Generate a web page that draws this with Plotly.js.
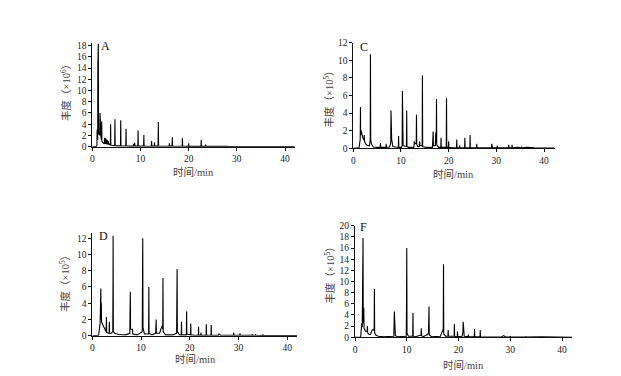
<!DOCTYPE html>
<html>
<head>
<meta charset="utf-8">
<script src="https://cdn.plot.ly/plotly-3.0.1.min.js"></script>
<style>html,body{margin:0;padding:0;background:#fff;}#chart{width:621px;height:376px;}</style>
</head>
<body>
<div id="chart"></div>
<script>
// Retention time (min), abundance pairs
const chromA = [[0,0],[0.9,0.05],[0.96,0.3],[1.0,3.0],[1.04,0.8],[1.12,1.2],[1.15,14.6],[1.18,2.5],[1.22,3.0],[1.25,18.3],[1.3,2.2],[1.42,2.5],[1.55,2.0],[1.6,6.0],[1.65,2.2],[1.72,2.0],[1.75,4.6],[1.8,1.6],[1.9,1.2],[1.95,4.5],[2.0,0.9],[2.2,0.7],[2.4,0.6],[2.5,0.5],[2.55,1.6],[2.6,0.5],[2.75,0.5],[2.8,1.5],[2.85,0.5],[3.0,0.4],[3.05,1.2],[3.1,0.4],[3.25,0.4],[3.3,1.0],[3.35,0.3],[3.5,0.3],[3.6,0.5],[3.75,0.3],[3.78,2.2],[3.8,4.0],[3.85,0.3],[4.0,0.25],[4.3,0.2],[4.65,0.2],[4.7,4.9],[4.75,0.2],[5.2,0.15],[5.85,0.15],[5.9,4.7],[5.95,0.15],[6.4,0.12],[6.95,0.12],[7.0,3.2],[7.05,0.12],[7.8,0.1],[8.55,0.1],[8.6,0.5],[8.65,0.15],[8.75,0.15],[8.8,0.7],[8.85,0.1],[9.45,0.1],[9.5,2.9],[9.55,0.1],[10.65,0.1],[10.7,2.1],[10.75,0.1],[11.5,0.08],[12.25,0.08],[12.3,1.0],[12.35,0.1],[12.85,0.1],[12.9,0.8],[12.95,0.1],[13.65,0.1],[13.7,4.4],[13.75,0.1],[15.0,0.08],[15.95,0.08],[16.0,0.6],[16.05,0.1],[16.55,0.1],[16.6,1.7],[16.65,0.1],[17.5,0.08],[18.65,0.08],[18.7,1.5],[18.75,0.08],[19.95,0.06],[20.0,0.6],[20.05,0.06],[21.0,0.05],[22.55,0.05],[22.6,1.2],[22.65,0.05],[23.45,0.05],[23.5,0.4],[23.55,0.05],[28.0,0.05],[28.5,0.1],[28.6,0.04],[30,0.03],[42,0.02]];

const chromC = [[0,0],[1.2,0.05],[1.45,1.0],[1.5,4.7],[1.55,1.5],[1.65,2.0],[1.8,1.6],[2.0,1.2],[2.25,0.9],[2.3,1.5],[2.35,0.8],[2.6,0.5],[3.0,0.3],[3.4,0.3],[3.55,1.0],[3.58,7.5],[3.6,10.7],[3.65,1.0],[3.8,0.5],[4.2,0.15],[5.0,0.1],[5.65,0.1],[5.7,0.6],[5.75,0.1],[6.85,0.1],[6.9,0.5],[6.95,0.1],[7.6,0.15],[7.85,0.6],[7.9,4.3],[7.95,2.0],[8.05,1.0],[8.3,0.2],[9.45,0.1],[9.5,1.4],[9.55,0.1],[10.1,0.1],[10.25,0.3],[10.3,6.5],[10.35,1.2],[10.45,0.3],[11.15,0.2],[11.2,4.3],[11.25,0.2],[11.6,0.1],[12.7,0.1],[12.8,0.8],[12.9,0.5],[13.2,0.6],[13.25,3.8],[13.3,0.5],[13.5,0.2],[13.85,0.2],[13.9,0.8],[14.0,0.3],[14.45,0.3],[14.5,8.3],[14.55,0.2],[15.2,0.1],[16.6,0.1],[16.75,1.9],[16.8,0.3],[17.2,0.3],[17.3,1.8],[17.4,0.6],[17.45,5.6],[17.5,0.4],[17.9,0.1],[18.35,0.1],[18.4,1.2],[18.45,0.1],[19.5,0.1],[19.55,5.7],[19.6,0.1],[19.95,0.1],[20.0,0.8],[20.05,0.1],[21.0,0.05],[21.65,0.05],[21.7,1.0],[21.75,0.05],[22.25,0.05],[22.3,0.3],[22.35,0.05],[23.35,0.05],[23.4,1.2],[23.45,0.05],[24.45,0.05],[24.5,1.5],[24.55,0.05],[25.85,0.05],[25.9,0.5],[25.95,0.05],[27,0.05],[29.0,0.05],[29.05,0.5],[29.1,0.2],[29.2,0.05],[30.15,0.05],[30.2,0.3],[30.25,0.05],[32.55,0.05],[32.6,0.4],[32.65,0.05],[33.25,0.05],[33.3,0.4],[33.35,0.05],[34.5,0.1],[35.25,0.05],[35.3,0.2],[35.35,0.05],[36.5,0.1],[38,0.05],[42.2,0.03]];

const chromD = [[0,0],[1.3,0.05],[1.6,1.5],[1.7,4.2],[1.75,5.8],[1.8,2.0],[1.85,4.0],[1.9,1.7],[2.1,1.4],[2.4,1.0],[2.6,0.7],[2.85,0.5],[2.9,2.3],[2.95,0.4],[3.3,0.3],[3.45,0.3],[3.5,1.7],[3.55,0.3],[3.9,0.3],[4.2,0.5],[4.25,6.8],[4.27,12.3],[4.32,0.5],[4.6,0.3],[5.5,0.15],[6.8,0.1],[7.7,0.3],[7.75,3.3],[7.8,5.4],[7.85,0.8],[8.25,0.8],[8.3,0.2],[9.2,0.1],[10.25,0.5],[10.3,4.5],[10.35,12.0],[10.4,1.0],[10.7,0.2],[11.55,0.2],[11.6,6.0],[11.65,0.3],[12.2,0.1],[13.0,0.3],[13.1,2.0],[13.15,0.3],[13.8,0.3],[14.3,1.2],[14.45,0.8],[14.5,7.1],[14.55,0.5],[15.0,0.1],[16.5,0.1],[17.3,0.3],[17.35,2.8],[17.4,8.2],[17.45,0.5],[17.9,0.1],[18.25,0.1],[18.3,1.7],[18.35,0.1],[19.3,0.1],[19.35,3.0],[19.4,0.2],[20.15,0.1],[20.2,1.5],[20.25,0.1],[21.0,0.05],[21.75,0.05],[21.8,1.1],[21.85,0.05],[22.25,0.05],[22.3,0.4],[22.35,0.05],[23.35,0.05],[23.4,1.4],[23.45,0.05],[24.35,0.05],[24.4,1.3],[24.45,0.05],[25.9,0.05],[26.0,0.2],[26.3,0.05],[28.95,0.05],[29.0,0.4],[29.05,0.05],[30.25,0.05],[30.3,0.3],[30.35,0.05],[32.75,0.05],[32.8,0.2],[32.85,0.05],[33.45,0.05],[33.5,0.2],[33.55,0.05],[34.95,0.03],[35.0,0.15],[35.05,0.03],[42,0.02]];

const chromF = [[0,0],[1.1,0.05],[1.3,2.5],[1.4,1.8],[1.55,17.8],[1.6,2.5],[1.7,5.3],[1.75,1.6],[1.9,1.3],[2.1,1.0],[2.35,1.2],[2.4,2.0],[2.45,0.8],[2.7,0.5],[3.0,0.5],[3.3,1.3],[3.5,1.4],[3.7,1.2],[3.75,8.7],[3.8,0.8],[4.0,0.4],[4.5,0.2],[5.5,0.1],[7.5,0.2],[7.6,4.6],[7.65,1.2],[7.8,0.3],[8.2,0.1],[9.9,0.2],[9.95,5.3],[10.0,16.0],[10.05,0.8],[10.3,0.2],[11.15,0.2],[11.2,4.4],[11.25,0.2],[11.7,0.1],[12.6,0.3],[12.75,0.4],[12.8,1.6],[12.85,0.3],[13.2,0.1],[14.0,0.5],[14.2,0.8],[14.3,5.5],[14.35,0.4],[14.8,0.1],[16.5,0.2],[16.9,1.2],[17.05,1.5],[17.1,13.1],[17.15,0.6],[17.5,0.2],[17.95,0.2],[18.0,1.3],[18.05,0.2],[19.15,0.2],[19.2,2.4],[19.25,0.2],[19.75,0.1],[19.8,1.1],[19.85,0.1],[20.7,0.2],[20.85,1.0],[20.9,2.8],[20.95,1.0],[21.1,0.2],[21.85,0.1],[21.9,0.5],[21.95,0.1],[23.05,0.1],[23.1,1.5],[23.15,0.1],[24.15,0.1],[24.2,1.3],[24.25,0.1],[25.5,0.05],[28.3,0.05],[28.7,0.3],[29.1,0.05],[29.95,0.05],[30.0,0.2],[30.05,0.05],[32.95,0.03],[33,0.1],[33.05,0.03],[36,0.08],[42,0.02]];

const panelLabels = ['A', 'C', 'D', 'F'];
const yTitles = ['丰度（×10<sup>6</sup>）', '丰度（×10<sup>5</sup>）', '丰度（×10<sup>5</sup>）', '丰度（×10<sup>5</sup>）'];
const xTitle = '时间/min';
const xTickVals = [0, 10, 20, 30, 40];

const W = 621, H = 376;
const px = v => v / W;
const py = v => 1 - v / H;

// pixel geometry of each panel: [left, right, bottom, top], axis ranges
const panels = [
  {data: chromA, dom: [92.3, 294.7, 146.7, 43.3], xr: [0, 42], yr: [0, 18.4], lab: [105, 46], xt: [193.5, 172], yt: [65, 90]},
  {data: chromC, dom: [353.3, 554.5, 148.3, 42.7], xr: [0, 42.2], yr: [0, 12], lab: [363.5, 47], xt: [453.5, 173.8], yt: [327.5, 97]},
  {data: chromD, dom: [92.3, 297.0, 335.7, 233.3], xr: [0, 42], yr: [0, 12.6], lab: [103.5, 236], xt: [195, 358.5], yt: [64, 281]},
  {data: chromF, dom: [355, 572.4, 337.3, 225.7], xr: [0, 42], yr: [0, 20], lab: [363.5, 227.5], xt: [463.5, 364.5], yt: [328.5, 273]}
];

const tickFont = {family: 'Liberation Serif, Times New Roman, serif', size: 9.5, color: '#1a1a1a'};
const titleFont = {family: 'Liberation Serif, Noto Sans CJK SC, serif', size: 10.5, color: '#4a3f3f'};

const traces = [];
const layout = {
  width: W, height: H,
  margin: {l: 0, r: 0, t: 0, b: 0},
  paper_bgcolor: '#fff', plot_bgcolor: '#fff',
  showlegend: false,
  annotations: []
};

panels.forEach((p, i) => {
  const n = i + 1;
  const xa = 'x' + (n === 1 ? '' : n), ya = 'y' + (n === 1 ? '' : n);
  traces.push({
    x: p.data.map(d => d[0]),
    y: p.data.map(d => d[1]),
    type: 'scatter', mode: 'lines',
    line: {color: '#000', width: 1.1},
    xaxis: xa, yaxis: ya, hoverinfo: 'skip'
  });
  const axBase = {
    showgrid: false, zeroline: false, showline: true,
    linecolor: '#111', linewidth: 1,
    ticks: 'outside', ticklen: 3, tickwidth: 1, tickcolor: '#111',
    tickfont: tickFont, fixedrange: true
  };
  layout['xaxis' + (n === 1 ? '' : n)] = Object.assign({}, axBase, {
    domain: [px(p.dom[0]), px(p.dom[1])], range: p.xr,
    tickvals: xTickVals, anchor: ya
  });
  layout['yaxis' + (n === 1 ? '' : n)] = Object.assign({}, axBase, {
    domain: [py(p.dom[2]), py(p.dom[3])], range: p.yr,
    dtick: 2, tick0: 0, anchor: xa
  });
  const common = {xref: 'paper', yref: 'paper', showarrow: false, xanchor: 'center', yanchor: 'middle'};
  layout.annotations.push(Object.assign({}, common, {
    text: panelLabels[i], x: px(p.lab[0]), y: py(p.lab[1]),
    font: {family: 'Liberation Serif, serif', size: 12, color: '#111'}
  }));
  layout.annotations.push(Object.assign({}, common, {
    text: xTitle, x: px(p.xt[0]), y: py(p.xt[1]), font: titleFont
  }));
  layout.annotations.push(Object.assign({}, common, {
    text: yTitles[i], textangle: -90, x: px(p.yt[0]), y: py(p.yt[1]), font: titleFont
  }));
});

Plotly.newPlot('chart', traces, layout, {displayModeBar: false, staticPlot: true});
</script>
</body>
</html>
